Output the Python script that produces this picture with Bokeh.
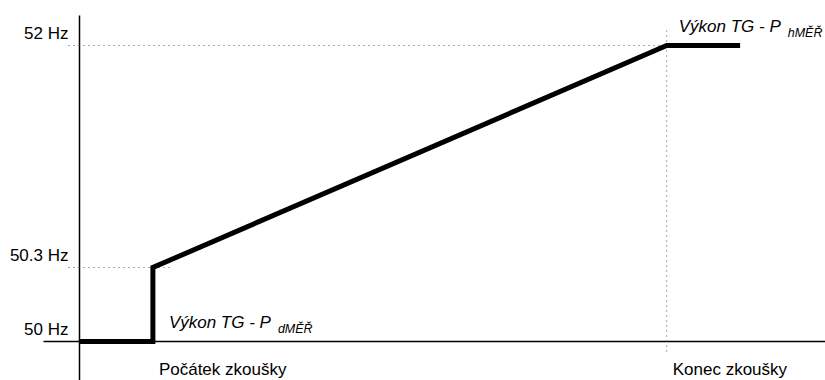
from bokeh.plotting import figure
from bokeh.models import Range1d
from bokeh.core.properties import value
from bokeh.embed import file_html
from bokeh.resources import INLINE

# ---- data (schematic units) ----
time_points = [0, 1, 1, 8, 9]          # time axis (arbitrary units)
freq_levels = [0, 0, 1, 4, 4]          # schematic frequency level
tick_labels = ["50 Hz", "50.3 Hz", "52 Hz"]
tick_levels = [0, 1, 4]
event_labels = ["Počátek zkoušky", "Konec zkoušky"]
event_times = [1, 8]
power_labels = ["Výkon TG - P", "Výkon TG - P"]
power_subs = ["dMĚŘ", "hMĚŘ"]
power_times = [1, 8]
power_levels = [0, 4]
power_shift = [16, 12]   # px gap from the marker line to the label

W, H = 825, 380
OX, OY = 79, 341   # pixel position of the origin
UX = 73.4   # px per time unit
UY = 74.0   # px per level
FONT = value("Liberation Sans")

p = figure(width=W, height=H, output_backend="svg", toolbar_location=None,
           x_range=Range1d(-OX / UX, (W - OX) / UX),
           y_range=Range1d(-(H - OY) / UY, OY / UY),
           x_axis_type=None, y_axis_type=None, min_border=0,
           outline_line_color=None, background_fill_color="white",
           border_fill_color="white")
p.grid.visible = False

# axes lines
p.line(x=[-36 / UX, 760 / UX], y=[0, 0], line_color="black", line_width=1.5)
p.line(x=[0, 0], y=[-0.6, 326 / UY], line_color="black", line_width=1.5)

# dotted guide lines
x_lbl = -11 / UX
p.segment(x0=[x_lbl, x_lbl], y0=[tick_levels[1], tick_levels[2]],
          x1=[event_times[0] + 18 / UX, event_times[1]], y1=[tick_levels[1], tick_levels[2]],
          line_color="#555555", line_width=1, line_dash="1 4")
p.segment(x0=[event_times[1]], y0=[tick_levels[2] + 15 / UY], x1=[event_times[1]],
          y1=[-11 / UY], line_color="#555555", line_width=1, line_dash="1 4")

# main curve
p.line(x=time_points, y=freq_levels, line_color="black", line_width=5,
       line_join="miter", line_cap="butt")

# tick labels
p.text(x=[x_lbl] * len(tick_levels), y=tick_levels, text=tick_labels,
       text_font=FONT, text_font_size="17px", text_align="right",
       text_baseline="alphabetic", y_offset=-12, text_color="black")

# event labels
p.text(x=event_times, y=[0, 0], text=event_labels, x_offset=6, y_offset=28,
       text_font=FONT, text_font_size="17px", text_align="left",
       text_baseline="alphabetic", text_color="black")

# power labels
px = [t + s / UX for t, s in zip(power_times, power_shift)]
p.text(x=px, y=power_levels, text=power_labels, y_offset=-19,
       text_font=FONT, text_font_size="17px", text_font_style="italic",
       text_align="left", text_baseline="alphabetic", text_color="black")
p.text(x=px, y=power_levels, text=power_subs, x_offset=109, y_offset=-13,
       text_font=FONT, text_font_size="12.5px", text_font_style="italic",
       text_align="left", text_baseline="alphabetic", text_color="black")

open("out.html", "w").write(file_html(p, INLINE))
